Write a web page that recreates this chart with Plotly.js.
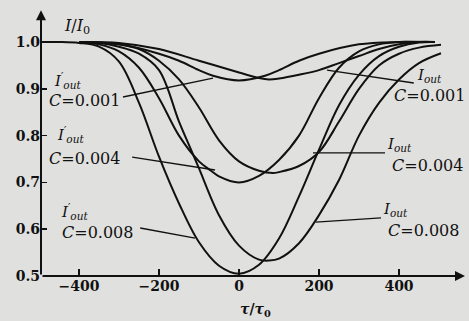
<!DOCTYPE html>
<html><head><meta charset="utf-8">
<script src="https://cdn.plot.ly/plotly-3.0.1.min.js"></script>
<style>body{margin:0;background:#e0e0de}</style>
</head><body><div id="g" style="width:469px;height:321px"></div>
<script>
// I'out, C=0.008
const xA = [-495,-450,-400,-350,-300,-250,-200,-150,-100,-50,0,50,100,150,200,250,300,350,400,450,490];
const yA = [1.0,1.0,0.998,0.99,0.958,0.87,0.755,0.655,0.572,0.522,0.505,0.524,0.58,0.67,0.77,0.865,0.93,0.97,0.99,0.999,1.0];
// Iout, C=0.008
const xB = [-400,-350,-300,-250,-200,-150,-120,-100,-50,0,50,75,100,150,200,250,300,350,400,450,505];
const yB = [1.0,0.998,0.99,0.975,0.94,0.83,0.77,0.73,0.63,0.565,0.535,0.533,0.537,0.57,0.63,0.705,0.8,0.87,0.92,0.955,0.976];
// I'out, C=0.004
const xC = [-400,-350,-300,-250,-200,-150,-100,-70,-50,0,50,100,150,200,250,300,350,400,450,490];
const yC = [1.0,0.995,0.98,0.945,0.88,0.8,0.745,0.725,0.713,0.70,0.714,0.748,0.8,0.88,0.945,0.98,0.995,1.0,1.0,1.0];
// Iout, C=0.004
const xD = [-400,-350,-300,-250,-200,-150,-100,-50,0,50,85,100,150,200,250,300,350,400,450,505];
const yD = [1.0,0.999,0.995,0.985,0.96,0.92,0.86,0.79,0.745,0.725,0.72,0.722,0.735,0.765,0.83,0.9,0.95,0.975,0.988,0.994];
// I'out, C=0.001
const xE = [-400,-300,-200,-150,-100,-65,0,65,100,150,200,300,400,480];
const yE = [1.0,0.995,0.975,0.96,0.94,0.928,0.918,0.928,0.94,0.96,0.975,0.995,1.0,1.0];
// Iout, C=0.001
const xF = [-400,-300,-200,-100,0,50,75,100,150,200,250,300,350,400,450,490];
const yF = [1.0,0.998,0.985,0.96,0.935,0.923,0.92,0.922,0.93,0.94,0.955,0.97,0.985,0.995,1.0,1.0];

const xTicks = [-400,-200,0,200,400];
const xTickText = ['\u2212400','\u2212200','0','200','400'];
const yTicks = [0.5,0.6,0.7,0.8,0.9,1.0];
const yTickText = ['0.5','0.6','0.7','0.8','0.9','1.0'];

const primeLabel = "<i>I</i><sup>\u2032</sup><sub><i>out</i></sub>";
const plainLabel = "<i>I</i><sub><i>out</i></sub>";
const cLabels = ["<i>C</i>=0.001","<i>C</i>=0.004","<i>C</i>=0.008"];

const line = {color:'#111', width:2, shape:'spline', smoothing:1.0};
const series = [[xA,yA],[xB,yB],[xC,yC],[xD,yD],[xE,yE],[xF,yF]];
const traces = series.map(s => ({x:s[0], y:s[1], mode:'lines', line:line, hoverinfo:'skip', showlegend:false}));

const F = {family:'DejaVu Serif, Liberation Serif, serif', size:16, color:'#111'};
const ann = [];
function txt(x,y,t,size){ann.push({x:x,y:y,xref:'x',yref:'y',text:t,showarrow:false,xanchor:'center',yanchor:'middle',font:Object.assign({},F,{size:size||16})});}
// left labels
txt(-430,0.917,primeLabel,15); txt(-387,0.874,cLabels[0]);
txt(-422,0.802,primeLabel,15); txt(-387,0.752,cLabels[1]);
txt(-412,0.637,primeLabel,15); txt(-355,0.592,cLabels[2]);
// right labels
txt(477,0.929,plainLabel,15); txt(477,0.885,cLabels[0]);
txt(402,0.781,plainLabel,15); txt(470,0.737,cLabels[1]);
txt(390,0.643,plainLabel,15); txt(460,0.598,cLabels[2]);
// axis titles
ann.push({xref:'paper',yref:'paper',x:0.05,y:0.985,xanchor:'left',yanchor:'top',text:'<i>I</i>/<i>I</i><sub>0</sub>',showarrow:false,font:Object.assign({},F,{size:16})});
ann.push({x:40,y:0.5,xref:'x',yref:'y',yshift:-34,xanchor:'center',yanchor:'middle',text:'<b><i>\u03c4</i>/<i>\u03c4</i><sub>0</sub></b>',showarrow:false,font:Object.assign({},F,{size:14})});
// axis arrows
ann.push({x:-495,y:1.068,ax:-495,ay:0.5,xref:'x',yref:'y',axref:'x',ayref:'y',text:'',showarrow:true,arrowhead:2,arrowsize:1,arrowwidth:2,arrowcolor:'#111'});
ann.push({x:565,y:0.5,ax:-495,ay:0.5,xref:'x',yref:'y',axref:'x',ayref:'y',text:'',showarrow:true,arrowhead:2,arrowsize:1,arrowwidth:2,arrowcolor:'#111'});

// leader lines
const leaders = [[-290,0.8825,-65,0.923],[-267,0.754,-60,0.7265],[-247,0.6026,-110,0.581],[437,0.9124,220,0.940],[365,0.763,185,0.763],[355,0.624,192,0.615]];
const shapes = leaders.map(l => ({type:'line',xref:'x',yref:'y',x0:l[0],y0:l[1],x1:l[2],y1:l[3],line:{color:'#111',width:1.3}}));

const layout = {
  width:469,height:321,
  margin:{l:41,r:4,t:10,b:45},
  paper_bgcolor:'#e0e0de',plot_bgcolor:'rgba(0,0,0,0)',
  xaxis:{range:[-495,565],tickvals:xTicks,ticktext:xTickText,ticks:'inside',ticklen:7,tickwidth:1.5,tickcolor:'#111',
    showgrid:false,zeroline:false,showline:false,tickfont:{family:'DejaVu Serif, serif',size:14,color:'#111',weight:'bold'}},
  yaxis:{range:[0.5,1.0684],tickvals:yTicks,ticktext:yTickText,ticks:'inside',ticklen:6,tickwidth:1.5,tickcolor:'#111',
    showgrid:false,zeroline:false,showline:false,tickfont:{family:'DejaVu Serif, serif',size:14,color:'#111',weight:'bold'}},
  annotations:ann, shapes:shapes
};
Plotly.newPlot('g',traces,layout,{staticPlot:true,displayModeBar:false});
</script></body></html>
